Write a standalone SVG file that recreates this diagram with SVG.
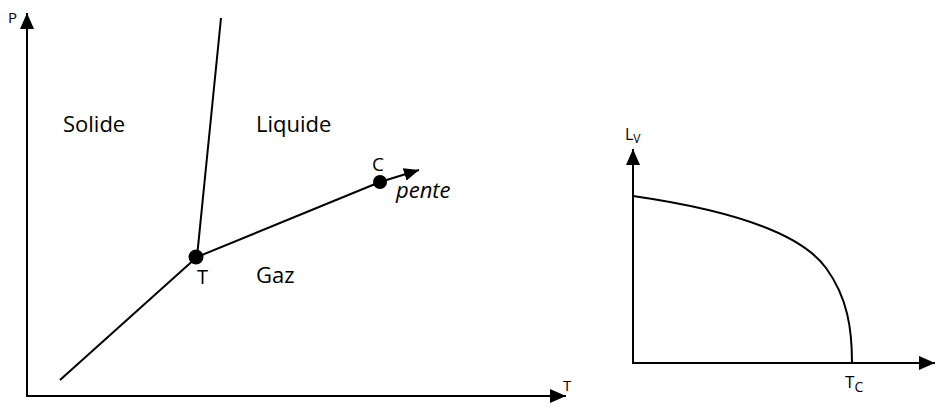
<svg xmlns="http://www.w3.org/2000/svg" width="939" height="408" viewBox="0 0 939 408">
  <style>
    .ln { stroke: #000; stroke-width: 2; fill: none; }
    .txt { font-family: "Open Sans", "Noto Sans", sans-serif; fill: #000; }
  </style>
  <defs>
    <marker id="arr" viewBox="0 0 16 14" refX="16" refY="7" markerWidth="16" markerHeight="14" markerUnits="userSpaceOnUse" orient="auto">
      <path d="M0,0 L16,7 L0,14 Z" fill="#000"/>
    </marker>
    <marker id="arrS" viewBox="0 0 15 13" refX="15" refY="6.5" markerWidth="15" markerHeight="13" markerUnits="userSpaceOnUse" orient="auto">
      <path d="M0,0 L15,6.5 L0,13 Z" fill="#000"/>
    </marker>
  </defs>
  <rect width="939" height="408" fill="#fff"/>

  <g id="left-plot">
    <g id="axes-left">
      <path class="ln" d="M27,397 L27,13" marker-end="url(#arr)"/>
      <path class="ln" d="M26,396 L566,396" marker-end="url(#arr)"/>
      <text class="txt" x="8" y="23" font-size="15">P</text>
      <text class="txt" x="563" y="391" font-size="15">T</text>
    </g>
    <g id="connectors">
      <path class="ln" d="M60,380 L197,257"/>
      <path class="ln" d="M197,257 L221,18"/>
      <path class="ln" d="M197,257 L380,182"/>
      <path class="ln" d="M380,182 L419,170" marker-end="url(#arrS)"/>
    </g>
    <g id="triple-point">
      <circle cx="196" cy="257" r="7.5" fill="#000"/>
      <text class="txt" x="197" y="284" font-size="20">T</text>
    </g>
    <g id="critical-point">
      <circle cx="380" cy="182" r="7" fill="#000"/>
      <text class="txt" x="372" y="171" font-size="19">C</text>
      <text class="txt" x="396" y="198" font-size="22" font-style="italic">pente</text>
    </g>
    <g id="regions">
      <text class="txt" x="63" y="132" font-size="22">Solide</text>
      <text class="txt" x="256" y="132" font-size="22">Liquide</text>
      <text class="txt" x="256" y="283" font-size="22">Gaz</text>
    </g>
  </g>

  <g id="right-plot">
    <g id="axes-right">
      <path class="ln" d="M633,364 L633,149" marker-end="url(#arr)"/>
      <path class="ln" d="M632,363 L935,363" marker-end="url(#arr)"/>
      <text class="txt" x="625" y="140" font-size="16">L<tspan font-size="12" dy="3">V</tspan></text>
      <text class="txt" x="845" y="388" font-size="17">T<tspan font-size="14" dy="4">C</tspan></text>
    </g>
    <g id="curve">
      <path class="ln" d="M633,196 C730,210 800,232 826,268 C848,298 852,330 852,363"/>
    </g>
  </g>
</svg>
